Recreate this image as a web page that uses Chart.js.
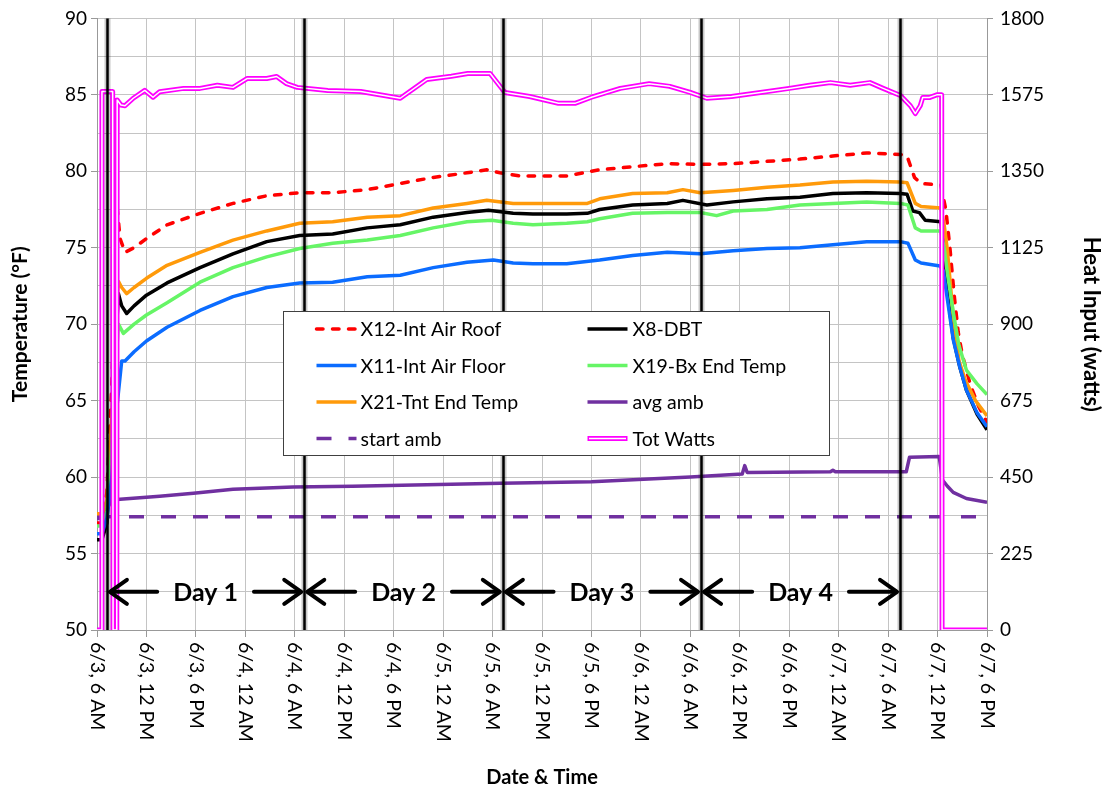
<!DOCTYPE html>
<html>
<head>
<meta charset="utf-8">
<script src="https://cdn.jsdelivr.net/npm/chart.js@4.4.0/dist/chart.umd.min.js"></script>
<style>
html,body{margin:0;padding:0;background:#fff;}
#wrap{width:1104px;height:790px;position:relative;}
</style>
</head>
<body>
<div id="wrap"><canvas id="c" width="1104" height="790"></canvas></div>
<script>
// ---------- DATA (hours since 6/3 6 AM) ----------
const tickStepHours = 6;
const tickLabels = ['6/3, 6 AM','6/3, 12 PM','6/3, 6 PM','6/4, 12 AM','6/4, 6 AM','6/4, 12 PM','6/4, 6 PM',
  '6/5, 12 AM','6/5, 6 AM','6/5, 12 PM','6/5, 6 PM','6/6, 12 AM','6/6, 6 AM','6/6, 12 PM','6/6, 6 PM',
  '6/7, 12 AM','6/7, 6 AM','6/7, 12 PM','6/7, 6 PM'];

const dayBoundaryHours = [1.2, 25.15, 49.25, 73.3, 97.45];
const dayLabels = ['Day 1', 'Day 2', 'Day 3', 'Day 4'];
const dayArrowTemp = 52.5;

const x12Hours = [0,0.6,1.2,1.8,2.2,2.45,2.8,3.4,4.5,6,8.5,12.5,16.5,20.6,24.6,28.6,32.8,36.8,40.8,44.9,47.3,48.9,51.3,57,61,65,69.2,73.2,77.2,81.3,85.3,89.3,93.4,97.5,98.3,99.2,100,102.4,103,103.5,104,104.5,105,106,107,108];
const x12Temp  = [57.0,57.0,59,66,73,77.6,75.6,74.7,75.0,75.6,76.5,77.25,77.9,78.4,78.6,78.6,78.8,79.2,79.6,79.9,80.1,79.9,79.7,79.7,80.1,80.3,80.5,80.45,80.5,80.65,80.8,81.0,81.2,81.1,81.0,79.6,79.2,79.1,77.5,75,72,69.5,68,66,64.6,63.6];

const x8Hours = [0,0.6,1.2,1.8,2.3,2.6,3.0,3.6,4.5,6,8.5,12.5,16.5,20.6,24.6,28.6,32.8,36.8,40.8,44.9,47.5,50.5,52.9,57,59.5,61,65,69.2,71.1,74,77.2,81.3,85.3,89.3,93.4,97.5,98.3,99.0,99.8,100.5,102.4,102.8,103.2,103.9,104.7,105.5,106.8,108];
const x8Temp  = [55.9,55.9,57,62,69,72.0,71.2,70.7,71.2,71.9,72.7,73.7,74.6,75.4,75.8,75.9,76.3,76.5,77.0,77.3,77.45,77.25,77.2,77.2,77.25,77.5,77.8,77.9,78.1,77.8,78.0,78.2,78.3,78.55,78.6,78.55,78.5,77.4,77.3,76.8,76.7,75.0,72.0,69.1,67.2,65.7,64.1,63.1];

const x11Hours = [0,0.6,1.2,1.8,2.4,3.0,3.4,4.5,6,8.5,12.5,16.5,20.6,24.6,28.6,32.8,36.8,40.8,44.9,48.1,50.5,52.9,57,61,65,69.2,73.2,77.2,81.3,85.3,89.3,93.4,97.5,98.4,99.3,100,102.3,102.7,103.2,103.9,104.7,105.5,106.8,108];
const x11Temp  = [56.3,56.3,57.3,60,64.5,67.6,67.6,68.2,68.9,69.8,70.9,71.8,72.4,72.7,72.75,73.1,73.2,73.7,74.05,74.2,74.0,73.95,73.95,74.2,74.5,74.7,74.6,74.8,74.95,75.0,75.2,75.4,75.4,75.3,74.2,74.0,73.8,73.5,71.6,69.0,67.2,65.7,64.2,63.3];

const x19Hours = [0,0.6,1.2,1.8,2.3,2.6,3.2,4.5,6,8.5,12.5,16.5,20.6,24.6,28.6,32.8,36.8,40.8,44.9,47.9,50.5,52.9,57,59.5,61,65,69.2,73.2,75.2,77.2,81.3,85.3,89.3,93.4,97.5,98.4,99.3,100,102.4,102.8,103.2,103.9,104.6,105.5,106.8,108];
const x19Temp  = [56.8,56.8,57.8,62,67.5,70.0,69.4,70.0,70.6,71.4,72.75,73.7,74.4,74.95,75.3,75.5,75.8,76.3,76.7,76.8,76.6,76.5,76.6,76.7,76.9,77.25,77.3,77.3,77.1,77.4,77.5,77.8,77.9,78.0,77.9,77.8,76.3,76.1,76.1,75.0,73.3,70.8,68.6,67.0,66.1,65.4];

const x21Hours = [0,0.6,1.2,1.8,2.3,2.6,3.0,3.6,4.5,6,8.5,12.5,16.5,20.6,24.6,28.6,32.8,36.8,40.8,44.9,47.3,50.5,52.9,57,59.5,61,65,69.2,71.1,73.2,77.2,81.3,85.3,89.3,93.4,97.5,98.3,99.3,100,102.4,102.8,103.2,103.9,104.6,105.4,106.6,108];
const x21Temp  = [57.6,57.6,58.5,64,70.5,72.8,72.4,72.0,72.4,73.0,73.85,74.7,75.5,76.1,76.6,76.7,77.0,77.1,77.6,77.9,78.1,77.9,77.9,77.9,77.9,78.2,78.55,78.6,78.8,78.6,78.75,78.95,79.1,79.3,79.35,79.3,79.25,77.9,77.7,77.6,76.5,74.8,70.5,67.6,66.3,65.0,64.0];

const avgAmbHours = [0,0.6,1.3,1.8,2.8,7.6,11.7,16.5,23.8,31,40,49,60,72,78.3,78.6,78.9,89.0,89.3,89.6,98.2,98.6,102.2,102.6,103.2,103.9,105.5,108];
const avgAmbTemp  = [57.3,57.3,58.0,58.5,58.55,58.75,58.95,59.2,59.35,59.4,59.5,59.6,59.7,60.0,60.2,60.75,60.3,60.35,60.45,60.35,60.35,61.3,61.35,59.8,59.4,59.0,58.6,58.35];

const startAmbHours = [0, 107];
const startAmbTemp  = [57.4, 57.4];

const wattsHours = [0,0.55,0.6,1.9,1.95,2.4,2.45,2.9,3.4,4.4,5.8,6.8,7.6,10.5,12.5,14.6,16.5,18.2,20.6,21.8,23,24.3,28,32,36.8,40,43,45,47.7,49.5,52.5,56,58,60,63.5,67,69.5,72,74,77,80.5,84,86.5,89,91.4,93.8,95.4,97.5,98.7,99.3,99.9,100.2,101,101.9,102.5,102.55,108];
const wattsValues = [0,0,1585,1585,0,0,1560,1545,1543,1565,1588,1568,1584,1594,1594,1603,1597,1623,1623,1629,1608,1597,1588,1585,1565,1620,1630,1638,1638,1582,1570,1550,1550,1568,1594,1608,1600,1582,1565,1570,1582,1594,1603,1611,1603,1611,1594,1573,1543,1520,1543,1567,1567,1575,1575,0,0];

const legendOrder = ['X12-Int Air Roof','X8-DBT','X11-Int Air Floor','X19-Bx End Temp','X21-Tnt End Temp','avg amb','start amb','Tot Watts'];

// ---------- helpers ----------
const FONT = 'Lato, "Open Sans", "Liberation Sans", sans-serif';
function pts(hs, vs) { return hs.map((h, i) => ({x: h, y: vs[i]})); }

Chart.defaults.font.family = FONT;
Chart.defaults.color = '#000';

const GRID = '#c4c4c4';

const datasets = [
  {label: 'Tot Watts', data: pts(wattsHours, wattsValues), yAxisID: 'y2', borderColor: '#ffffff', borderWidth: 1.5, order: 0, legendSkip: true},
  {label: 'Tot Watts', data: pts(wattsHours, wattsValues), yAxisID: 'y2', borderColor: '#ff00ff', borderWidth: 5, order: 1, doubleLine: true},
  {label: 'X11-Int Air Floor', data: pts(x11Hours, x11Temp), yAxisID: 'y', borderColor: '#0b6cff', borderWidth: 3.5, order: 2},
  {label: 'X19-Bx End Temp', data: pts(x19Hours, x19Temp), yAxisID: 'y', borderColor: '#66f566', borderWidth: 3.5, order: 3},
  {label: 'X21-Tnt End Temp', data: pts(x21Hours, x21Temp), yAxisID: 'y', borderColor: '#ff9a0a', borderWidth: 3.5, order: 4},
  {label: 'X8-DBT', data: pts(x8Hours, x8Temp), yAxisID: 'y', borderColor: '#000000', borderWidth: 3.5, order: 5},
  {label: 'X12-Int Air Roof', data: pts(x12Hours, x12Temp), yAxisID: 'y', borderColor: '#ff0000', borderWidth: 3.5, borderDash: [6.5, 9.5], borderCapStyle: 'round', order: 6},
  {label: 'avg amb', data: pts(avgAmbHours, avgAmbTemp), yAxisID: 'y', borderColor: '#7030a0', borderWidth: 3.5, order: 7},
  {label: 'start amb', data: pts(startAmbHours, startAmbTemp), yAxisID: 'y', borderColor: '#7030a0', borderWidth: 3.5, borderDash: [15, 17], order: 8}
];
datasets.forEach(d => { d.pointRadius = 0; d.tension = 0; d.fill = false; d.borderJoinStyle = 'round'; });

const overlayPlugin = {
  id: 'overlay',
  afterDatasetsDraw(chart) {
    const {ctx, chartArea} = chart;
    const xs = chart.scales.x, ys = chart.scales.y;
    ctx.save();
    // day boundary lines
    dayBoundaryHours.forEach(h => {
      const px = Math.round(xs.getPixelForValue(h)) + 0.5;
      ctx.beginPath(); ctx.moveTo(px, chartArea.top); ctx.lineTo(px, chartArea.bottom);
      ctx.strokeStyle = 'rgba(0,0,0,0.22)'; ctx.lineWidth = 6; ctx.stroke();
      ctx.beginPath(); ctx.moveTo(px, chartArea.top); ctx.lineTo(px, chartArea.bottom);
      ctx.strokeStyle = '#000'; ctx.lineWidth = 2.5; ctx.stroke();
    });
    // day arrows + labels
    const ay = ys.getPixelForValue(dayArrowTemp);
    ctx.font = 'bold 25px ' + FONT;
    ctx.textAlign = 'center'; ctx.textBaseline = 'middle';
    ctx.strokeStyle = '#000'; ctx.fillStyle = '#000'; ctx.lineWidth = 4;
    ctx.lineCap = 'round'; ctx.lineJoin = 'round';
    for (let i = 0; i < dayLabels.length; i++) {
      const x0 = xs.getPixelForValue(dayBoundaryHours[i]) + 2;
      const x1 = xs.getPixelForValue(dayBoundaryHours[i + 1]) - 2;
      const mid = (x0 + x1) / 2;
      const tw = ctx.measureText(dayLabels[i]).width;
      const gap = 16;
      ctx.beginPath();
      ctx.moveTo(x0 + 2, ay); ctx.lineTo(mid - tw / 2 - gap, ay);
      ctx.moveTo(mid + tw / 2 + gap, ay); ctx.lineTo(x1 - 2, ay);
      ctx.stroke();
      ctx.beginPath();
      ctx.moveTo(x0 + 18, ay - 12); ctx.lineTo(x0 + 1, ay); ctx.lineTo(x0 + 18, ay + 12);
      ctx.moveTo(x1 - 18, ay - 12); ctx.lineTo(x1 - 1, ay); ctx.lineTo(x1 - 18, ay + 12);
      ctx.stroke();
      ctx.fillText(dayLabels[i], mid, ay + 1);
    }
    ctx.restore();
  },
  afterDraw(chart) {
    const {ctx, chartArea} = chart;
    const xs = chart.scales.x;
    ctx.save();
    // rotated x tick labels (reading top to bottom)
    ctx.font = '19.5px ' + FONT;
    ctx.fillStyle = '#000'; ctx.textAlign = 'left'; ctx.textBaseline = 'middle';
    tickLabels.forEach((lab, i) => {
      const px = xs.getPixelForValue(i * tickStepHours);
      ctx.save();
      ctx.translate(px, chartArea.bottom + 12);
      ctx.rotate(Math.PI / 2);
      ctx.fillText(lab, 0, 0);
      ctx.restore();
    });
    // legend box
    const lx = Math.round(chartArea.left + 186) + 0.5, ly = Math.round(chartArea.top + 293) + 0.5;
    const lw = 546, lh = 144;
    ctx.fillStyle = '#fff'; ctx.fillRect(lx, ly, lw, lh);
    ctx.strokeStyle = '#404040'; ctx.lineWidth = 1; ctx.strokeRect(lx, ly, lw, lh);
    const colSample = [33, 304], colText = [77, 349];
    ctx.font = '19.5px ' + FONT; ctx.textBaseline = 'middle'; ctx.textAlign = 'left';
    legendOrder.forEach((name, k) => {
      const ds = chart.data.datasets.find(d => d.label === name && !d.legendSkip);
      const col = k % 2, row = Math.floor(k / 2);
      const yy = ly + 17.5 + row * 36.5;
      const sx = lx + colSample[col];
      ctx.save();
      ctx.beginPath(); ctx.moveTo(sx, yy); ctx.lineTo(sx + 40, yy);
      ctx.strokeStyle = ds.borderColor; ctx.lineWidth = ds.doubleLine ? 5 : 3.5;
      ctx.lineCap = ds.borderCapStyle || 'butt';
      ctx.setLineDash(ds.borderDash || []);
      ctx.stroke();
      if (ds.doubleLine) {
        ctx.beginPath(); ctx.moveTo(sx + 1.5, yy); ctx.lineTo(sx + 38.5, yy);
        ctx.strokeStyle = '#fff'; ctx.lineWidth = 1.5; ctx.stroke();
      }
      ctx.restore();
      ctx.fillStyle = '#000';
      ctx.fillText(name, lx + colText[col], yy + 1);
    });
    ctx.restore();
  }
};

new Chart(document.getElementById('c'), {
  type: 'line',
  data: {datasets},
  options: {
    responsive: false,
    animation: false,
    devicePixelRatio: 1,
    events: [],
    layout: {padding: {top: 18, left: 0, right: 0, bottom: 0}},
    plugins: {legend: {display: false}, tooltip: {enabled: false}},
    scales: {
      x: {
        type: 'linear', position: 'bottom', min: 0, max: 108,
        ticks: {display: false, stepSize: tickStepHours},
        grid: {color: GRID, lineWidth: 1, tickLength: 7, tickColor: '#999'},
        border: {color: '#999'},
        title: {display: true, text: 'Date & Time', font: {size: 20, weight: 'bold'}, padding: {top: 0, bottom: 0}},
        afterFit(s) { s.height = 160; }
      },
      y: {
        type: 'linear', position: 'left', min: 50, max: 90,
        ticks: {stepSize: 2.5, padding: 4, font: {size: 19},
          callback: v => (v % 5 === 0 ? String(v) : '')},
        grid: {color: GRID, lineWidth: 1, tickLength: 6,
          tickColor: c => (c.tick && c.tick.value % 5 === 0 ? '#999' : 'rgba(0,0,0,0)')},
        border: {color: '#999'},
        title: {display: true, text: 'Temperature (°F)', font: {size: 21, weight: 'bold'}, padding: {top: 8, bottom: 0}},
        afterFit(s) { s.width = 97; }
      },
      y2: {
        type: 'linear', position: 'right', min: 0, max: 1800,
        ticks: {stepSize: 225, padding: 7, font: {size: 19}, callback: v => String(v)},
        grid: {drawOnChartArea: false, tickLength: 6, tickColor: '#999'},
        border: {color: '#999'},
        title: {display: true, text: 'Heat Input (watts)', font: {size: 22, weight: 'bold'}, padding: {top: 0, bottom: 0}},
        afterFit(s) { s.width = 117; }
      }
    }
  },
  plugins: [overlayPlugin]
});
</script>
</body>
</html>
